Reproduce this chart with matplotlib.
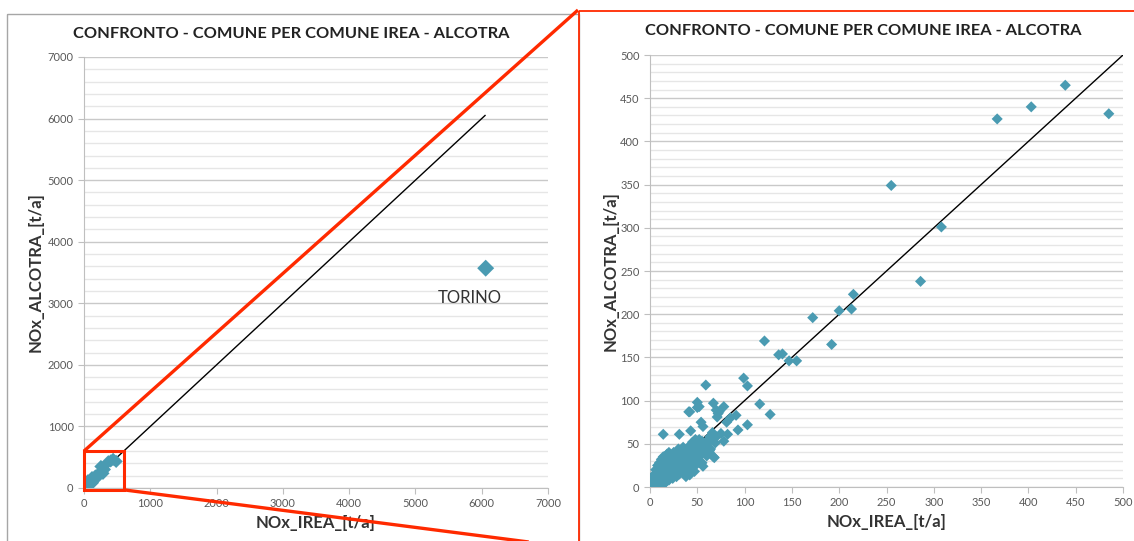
import matplotlib
matplotlib.use("Agg")
import matplotlib.pyplot as plt
from matplotlib.patches import Rectangle
from matplotlib.ticker import MultipleLocator

plt.rcParams["font.family"] = ["Lato", "DejaVu Sans"]

TITLE = "CONFRONTO - COMUNE PER COMUNE IREA - ALCOTRA"
XLABEL = "NOx_IREA_[t/a]"
YLABEL = "NOx_ALCOTRA_[t/a]"

# comune per comune
irea = [439, 403, 367, 485, 255, 308, 286, 215, 213, 200, 172, 192, 121, 136, 140,
        147, 155, 99, 103, 59, 116, 127, 50, 50, 41, 67, 70, 72, 78, 85, 91, 81, 103,
        93, 82, 78, 14, 31, 43, 54, 56, 66, 69, 67, 68, 56, 49, 53, 58, 63, 70, 75,
        71, 73, 52, 42,
        0.5, 1, 1.5, 2, 2, 3, 3, 4, 4, 5, 5, 5, 6, 6, 6, 7, 7, 7, 8, 8, 8, 9, 9, 9,
        10, 10, 10, 10, 11, 11, 12, 12, 12, 12, 13, 13, 14, 14, 14, 15, 15, 15, 16,
        16, 16, 17, 17, 17, 18, 18, 18, 19, 19, 19, 20, 20, 20, 20, 21, 21, 22, 22,
        22, 23, 23, 24, 24, 24, 25, 25, 25, 26, 26, 27, 27, 28, 28, 28, 29, 30, 30,
        30, 31, 31, 32, 32, 33, 33, 34, 34, 35, 35, 36, 36, 37, 38, 38, 39, 40, 40,
        41, 42, 42, 43, 44, 45, 45, 46, 47, 48, 48, 50, 50, 51, 52, 53, 54, 55, 57,
        58, 60, 62, 63, 65, 47, 42, 38, 55, 60, 64]
alcotra = [465, 440, 426, 432, 349, 301, 238, 223, 206, 204, 196, 165, 169, 153, 154,
           146, 146, 126, 117, 118, 96, 84, 98, 92, 87, 97, 89, 85, 93, 80, 83, 75, 72,
           66, 61, 53, 61, 61, 65, 75, 70, 63, 51, 35, 34, 24, 26, 50, 49, 58, 58, 62,
           81, 87, 93, 87,
           1, 3, 0.5, 5, 1, 2, 8, 4, 12, 1, 6, 15, 3, 10, 20, 5, 13, 2, 8, 18, 25, 4,
           12, 22, 6, 16, 28, 2, 9, 20, 5, 14, 24, 32, 10, 18, 7, 26, 35, 12, 20, 4,
           15, 28, 9, 22, 33, 6, 13, 25, 38, 10, 18, 30, 15, 24, 8, 40, 20, 34, 12, 27,
           18, 22, 37, 16, 30, 10, 25, 40, 20, 14, 33, 22, 28, 18, 38, 12, 26, 20, 32,
           44, 15, 27, 24, 36, 30, 18, 40, 22, 28, 46, 34, 16, 24, 38, 30, 20, 44, 26,
           35, 48, 30, 22, 40, 52, 34, 28, 45, 38, 55, 30, 48, 42, 55, 36, 47, 53, 40,
           45, 50, 55, 42, 58, 18, 14, 12, 28, 36, 44]

torino_irea = 6060
torino_alcotra = 3570

W, H = 1134, 541
DOT = "#4A9BB2"
GRID_MAJOR = "#C9C9C9"
GRID_MINOR = "#E6E6E6"
TICK_COL = "#595959"


def px_rect(x0, y0, x1, y1):
    return [x0 / W, (H - y1) / H, (x1 - x0) / W, (y1 - y0) / H]


def style_axes(ax, vmax, major, minor, ypad):
    ax.set_xlim(0, vmax)
    ax.set_ylim(0, vmax)
    ax.xaxis.set_major_locator(MultipleLocator(major))
    ax.yaxis.set_major_locator(MultipleLocator(major))
    ax.yaxis.set_minor_locator(MultipleLocator(minor))
    ax.grid(True, axis="y", which="major", color=GRID_MAJOR, lw=1.0)
    ax.grid(True, axis="y", which="minor", color=GRID_MINOR, lw=1.0)
    ax.set_axisbelow(True)
    for s in ["top", "right"]:
        ax.spines[s].set_visible(False)
    for s in ["left", "bottom"]:
        ax.spines[s].set_color("#BFBFBF")
    ax.tick_params(axis="both", which="major", labelsize=8, labelcolor=TICK_COL,
                   color="#BFBFBF", length=4)
    ax.tick_params(axis="y", which="minor", length=0)
    ax.set_xlabel(XLABEL, fontsize=12, fontweight="bold", color="#333333", labelpad=4)
    ax.set_ylabel(YLABEL, fontsize=12, fontweight="bold", color="#333333", labelpad=ypad)


fig = plt.figure(figsize=(W / 100, H / 100), dpi=100)
fig.patch.set_facecolor("white")

ax_l = fig.add_axes(px_rect(84, 57, 548, 488))
ax_r = fig.add_axes(px_rect(650, 55, 1123, 487))

style_axes(ax_l, 7000, 1000, 200, 3)
style_axes(ax_r, 500, 50, 10, 1)

fig.text(291 / W, 1 - 34 / H, TITLE, fontsize=11.8, fontweight="bold",
         color="#222222", ha="center", va="center")
fig.text(863 / W, 1 - 31 / H, TITLE, fontsize=11.8, fontweight="bold",
         color="#222222", ha="center", va="center")

# left: whole territory incl. Torino
ax_l.plot([0, 6050], [0, 6050], color="black", lw=1.0, zorder=2)
ax_l.scatter(irea, alcotra, marker="D", s=45, color=DOT, edgecolors="none", zorder=3)
ax_l.scatter([torino_irea], [torino_alcotra], marker="D", s=75, color=DOT,
             edgecolors="none", zorder=3)
ax_l.text(torino_irea - 240, torino_alcotra - 480, "TORINO", fontsize=12,
          color="#333333", ha="center", va="center")

# right: zoom 0-500
ax_r.plot([0, 500], [0, 500], color="black", lw=1.0, zorder=2)
ax_r.scatter(irea, alcotra, marker="D", s=32, color=DOT, edgecolors="none", zorder=3)

# zoom box and connecting lines
RED = "#FF2A00"
ax_l.add_patch(Rectangle((0, -30), 600, 630, fill=False, ec=RED, lw=2.2,
                         clip_on=False, zorder=5))

over = fig.add_axes([0, 0, 1, 1], zorder=10)
over.set_xlim(0, W)
over.set_ylim(H, 0)
over.axis("off")
over.patch.set_alpha(0)

# chart frames
over.add_patch(Rectangle((7, 14), 572, 540, fill=False, ec="#A6A6A6", lw=1.0))
over.add_patch(Rectangle((579, 11), 560, 540, fill=False, ec=RED, lw=1.3))

for (xa, ya), (xb, yb) in [((0, 600), (578, 10)), ((600, -30), (552, 545))]:
    start = ax_l.transData.transform((xa, ya))
    sx, sy = start[0], H - start[1]
    over.plot([sx, xb], [sy, yb], color=RED, lw=2.4, solid_capstyle="butt")

fig.savefig("out.png", dpi=100, facecolor="white")
